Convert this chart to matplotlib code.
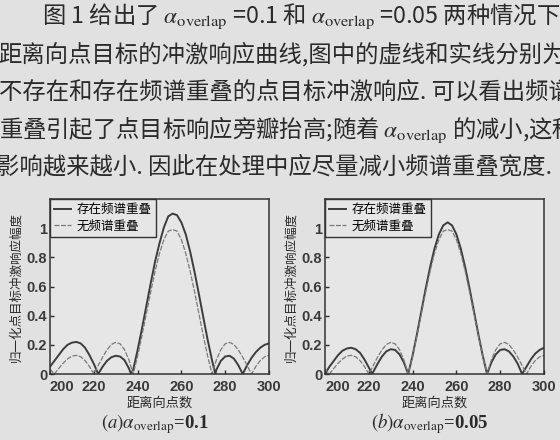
import matplotlib
matplotlib.use('Agg')
import matplotlib.pyplot as plt

plt.rcParams['font.family'] = ['Noto Sans CJK SC', 'DejaVu Sans']
plt.rcParams['mathtext.fontset'] = 'stix'

# ---- data ----
# (a) alpha_overlap = 0.1
x_a_over = [200, 202, 204, 206, 208, 210, 212, 214, 216, 218, 220, 222, 224, 226, 228, 230,
            232, 234, 236, 237, 238, 240, 242, 244, 246, 248, 250, 252, 254, 256, 258, 260,
            262, 264, 266, 268, 270, 272, 274, 275.5, 276, 278, 280, 282, 284, 286, 288,
            290, 292, 294, 296, 298, 300]
y_a_over = [0.05, 0.09, 0.13, 0.17, 0.20, 0.215, 0.22, 0.21, 0.18, 0.13, 0.07, 0.0, 0.05, 0.09,
            0.115, 0.125, 0.12, 0.095, 0.04, 0.0, 0.03, 0.164, 0.312, 0.467, 0.624, 0.772, 0.897,
            1.005, 1.081, 1.10, 1.089, 1.039, 0.957, 0.839, 0.70, 0.547, 0.389, 0.234, 0.093, 0.0,
            0.03, 0.09, 0.12, 0.125, 0.105, 0.06, 0.0, 0.06, 0.11, 0.15, 0.18, 0.20, 0.21]

x_none = [200, 202, 204, 206, 208, 210, 212, 214, 216, 218, 220, 222, 224, 226, 228, 230,
          232, 234, 236, 238, 240, 242, 244, 246, 248, 250, 252, 254, 256, 258, 260, 262,
          264, 266, 268, 270, 272, 274, 276, 278, 280, 282, 284, 286, 288, 290, 292, 294,
          296, 298, 300]
y_none = [0.035, 0.0, 0.038, 0.074, 0.103, 0.123, 0.128, 0.118, 0.092, 0.052, 0.0, 0.058,
          0.115, 0.165, 0.202, 0.217, 0.207, 0.167, 0.098, 0.0, 0.122, 0.263, 0.414, 0.564,
          0.705, 0.827, 0.921, 0.980, 0.99, 0.980, 0.921, 0.827, 0.705, 0.564, 0.414, 0.263,
          0.122, 0.0, 0.098, 0.167, 0.207, 0.217, 0.202, 0.165, 0.115, 0.058, 0.0, 0.052,
          0.092, 0.118, 0.128]

# (b) alpha_overlap = 0.05
x_b_over = [200, 202, 204, 206, 208, 210, 212, 214, 216, 218, 220, 221.5, 224, 226, 228, 230,
            232, 234, 236, 238, 240, 242, 244, 246, 248, 250, 252, 254, 256, 258, 260, 262,
            264, 266, 268, 270, 272, 274, 276, 278, 280, 282, 284, 286, 288, 290, 292, 294,
            296, 298, 300]
y_b_over = [0.0, 0.05, 0.09, 0.13, 0.16, 0.175, 0.18, 0.17, 0.145, 0.10, 0.045, 0.0, 0.07,
            0.12, 0.155, 0.17, 0.165, 0.135, 0.08, 0.0, 0.127, 0.274, 0.431, 0.587, 0.733,
            0.860, 0.958, 1.019, 1.04, 1.019, 0.958, 0.860, 0.733, 0.587, 0.431, 0.274, 0.127,
            0.0, 0.08, 0.135, 0.165, 0.17, 0.155, 0.12, 0.07, 0.0, 0.05, 0.10, 0.14, 0.165, 0.18]

xticks = [200, 220, 240, 260, 280, 300]
yticks = [0, 0.2, 0.4, 0.6, 0.8, 1]
ytick_labels = ['0', '0.2', '0.4', '0.6', '0.8', '1']
label_over = '存在频谱重叠'
label_none = '无频谱重叠'

paragraph = [
    '图 1 给出了 $\\alpha_{\\mathrm{overlap}}$ =0.1 和 $\\alpha_{\\mathrm{overlap}}$ =0.05 两种情况下',
    '距离向点目标的冲激响应曲线,图中的虚线和实线分别为',
    '不存在和存在频谱重叠的点目标冲激响应. 可以看出频谱',
    '重叠引起了点目标响应旁瓣抬高;随着 $\\alpha_{\\mathrm{overlap}}$ 的减小,这种',
    '影响越来越小. 因此在处理中应尽量减小频谱重叠宽度.',
]
captions = ['$(a)\\alpha_{\\mathrm{overlap}}$=0.1', '$(b)\\alpha_{\\mathrm{overlap}}$=0.05']

W, H = 560, 440
paper = '#e1e1e1'
ink = '#2a2a2a'

fig = plt.figure(figsize=(W / 100, H / 100), dpi=100, facecolor=paper)

# paragraph text above the figure (cut at the right edge, as in the scan)
line_y = [16, 54, 92, 130, 167]
line_x = [42, -2, -1, -1, -4]
for txt, ly, lx in zip(paragraph, line_y, line_x):
    fig.text(lx / W, 1 - ly / H, txt, fontsize=16.8, color=ink, va='center', ha='left')

panels = [
    (50, x_a_over, y_a_over, captions[0]),
    (325, x_b_over, y_b_over, captions[1]),
]
for left_px, xo, yo, cap in panels:
    ax = fig.add_axes([left_px / W, (H - 374) / H, 219 / W, 175 / H])
    ax.set_facecolor('#e6e6e6')
    ax.plot(xo, yo, color='#3c3c3c', lw=1.4, label=label_over)
    ax.plot(x_none, y_none, color='#7a7a7a', lw=0.9, ls=(0, (4, 1.2)), label=label_none)
    ax.set_xlim(200, 300)
    ax.set_ylim(0, 1.2)
    ax.set_xticks(xticks)
    ax.set_yticks(yticks)
    ax.set_yticklabels(ytick_labels)
    ax.tick_params(direction='in', length=3, width=1, colors=ink, labelsize=10.5)
    ax.tick_params(axis='x', pad=4)
    ax.tick_params(axis='y', pad=2)
    for lab in ax.get_xticklabels() + ax.get_yticklabels():
        lab.set_family('Liberation Sans')
        lab.set_fontweight('bold')
        lab.set_color('#3a3a3a')
    # in the scan the first x label sits just right of the corner
    ax.get_xticklabels()[0].set_horizontalalignment('left')
    for sp in ax.spines.values():
        sp.set_color('#333333')
        sp.set_linewidth(1.1)
    ax.set_xlabel('距离向点数', fontsize=9.5, color=ink, labelpad=2)
    ax.set_ylabel('归一化点目标冲激响应幅度', fontsize=9, color=ink, labelpad=3)
    leg = ax.legend(loc='upper left', fontsize=9, frameon=True, fancybox=False,
                    borderaxespad=0, handlelength=1.3, handletextpad=0.5,
                    borderpad=0.35, labelspacing=0.25)
    leg.get_frame().set_edgecolor('#333333')
    leg.get_frame().set_facecolor('#e6e6e6')
    leg.get_frame().set_linewidth(1.0)
    leg.get_frame().set_alpha(1)
    fig.text((left_px + 105) / W, 1 - 424 / H, cap, fontsize=13.5, color=ink,
             family='Liberation Serif', fontweight='bold', ha='center', va='center')

fig.savefig('out.png', dpi=100, facecolor=paper)
